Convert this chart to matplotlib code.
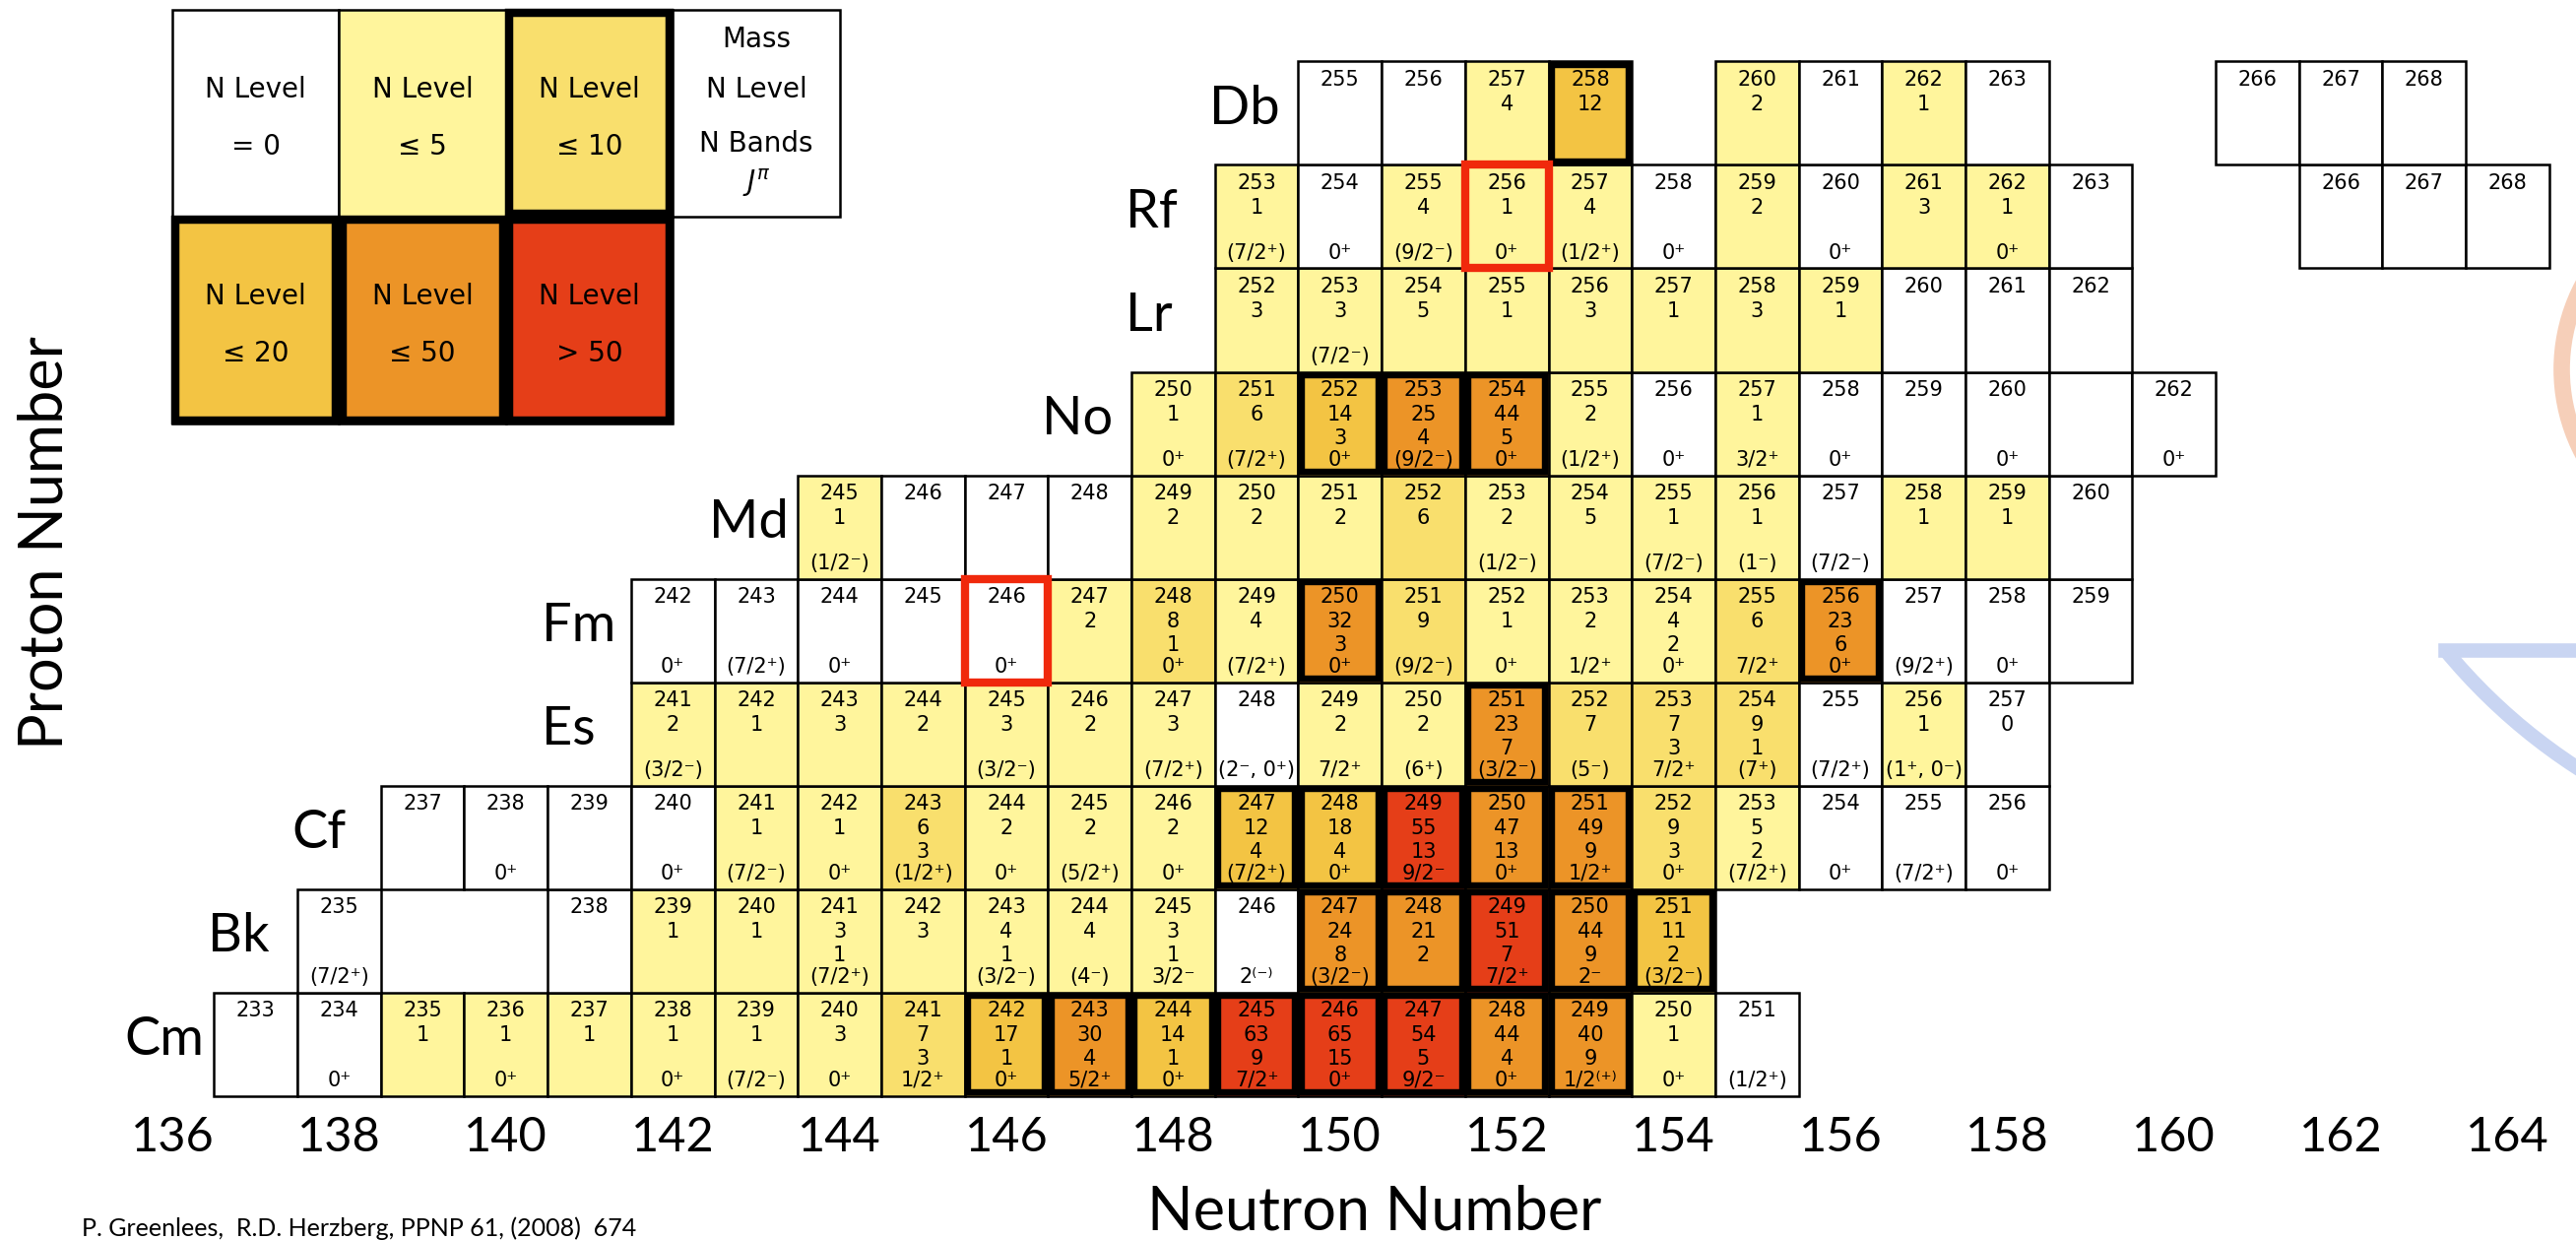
import matplotlib
matplotlib.use("Agg")
import matplotlib.pyplot as plt
from matplotlib.patches import Rectangle, Arc
from matplotlib.lines import Line2D

W, H, DPI = 2616, 1259, 100

# --- Chart rows: mass, number of levels, number of bands, ground-state J^pi ---
CM_MASS = [233, 234, 235, 236, 237, 238, 239, 240, 241, 242, 243, 244, 245, 246, 247, 248, 249, 250, 251]
CM_LEVEL = [None, None, 1, 1, 1, 1, 1, 3, 7, 17, 30, 14, 63, 65, 54, 44, 40, 1, None]
CM_BANDS = [None, None, None, None, None, None, None, None, 3, 1, 4, 1, 9, 15, 5, 4, 9, None, None]
CM_SPIN = ["", "0⁺", "", "0⁺", "", "0⁺", "(7/2⁻)", "0⁺", "1/2⁺", "0⁺", "5/2⁺", "0⁺", "7/2⁺", "0⁺",
           "9/2⁻", "0⁺", "1/2⁽⁺⁾", "0⁺", "(1/2⁺)"]

BK_MASS = [235, 238, 239, 240, 241, 242, 243, 244, 245, 246, 247, 248, 249, 250, 251]
BK_LEVEL = [None, None, 1, 1, 3, 3, 4, 4, 3, None, 24, 21, 51, 44, 11]
BK_BANDS = [None, None, None, None, 1, None, 1, None, 1, None, 8, 2, 7, 9, 2]
BK_SPIN = ["(7/2⁺)", "", "", "", "(7/2⁺)", "", "(3/2⁻)", "(4⁻)", "3/2⁻", "2⁽⁻⁾", "(3/2⁻)", "", "7/2⁺",
           "2⁻", "(3/2⁻)"]

CF_MASS = [237, 238, 239, 240, 241, 242, 243, 244, 245, 246, 247, 248, 249, 250, 251, 252, 253, 254, 255, 256]
CF_LEVEL = [None, None, None, None, 1, 1, 6, 2, 2, 2, 12, 18, 55, 47, 49, 9, 5, None, None, None]
CF_BANDS = [None, None, None, None, None, None, 3, None, None, None, 4, 4, 13, 13, 9, 3, 2, None, None, None]
CF_SPIN = ["", "0⁺", "", "0⁺", "(7/2⁻)", "0⁺", "(1/2⁺)", "0⁺", "(5/2⁺)", "0⁺", "(7/2⁺)", "0⁺", "9/2⁻",
           "0⁺", "1/2⁺", "0⁺", "(7/2⁺)", "0⁺", "(7/2⁺)", "0⁺"]

ES_MASS = [241, 242, 243, 244, 245, 246, 247, 248, 249, 250, 251, 252, 253, 254, 255, 256, 257]
ES_LEVEL = [2, 1, 3, 2, 3, 2, 3, None, 2, 2, 23, 7, 7, 9, None, 1, 0]
ES_BANDS = [None, None, None, None, None, None, None, None, None, None, 7, None, 3, 1, None, None, None]
ES_SPIN = ["(3/2⁻)", "", "", "", "(3/2⁻)", "", "(7/2⁺)", "(2⁻, 0⁺)", "7/2⁺", "(6⁺)", "(3/2⁻)", "(5⁻)",
           "7/2⁺", "(7⁺)", "(7/2⁺)", "(1⁺, 0⁻)", ""]

FM_MASS = [242, 243, 244, 245, 246, 247, 248, 249, 250, 251, 252, 253, 254, 255, 256, 257, 258, 259]
FM_LEVEL = [None, None, None, None, None, 2, 8, 4, 32, 9, 1, 2, 4, 6, 23, None, None, None]
FM_BANDS = [None, None, None, None, None, None, 1, None, 3, None, None, None, 2, None, 6, None, None, None]
FM_SPIN = ["0⁺", "(7/2⁺)", "0⁺", "", "0⁺", "", "0⁺", "(7/2⁺)", "0⁺", "(9/2⁻)", "0⁺", "1/2⁺", "0⁺",
           "7/2⁺", "0⁺", "(9/2⁺)", "0⁺", ""]

MD_MASS = [245, 246, 247, 248, 249, 250, 251, 252, 253, 254, 255, 256, 257, 258, 259, 260]
MD_LEVEL = [1, None, None, None, 2, 2, 2, 6, 2, 5, 1, 1, None, 1, 1, None]
MD_BANDS = [None] * len(MD_MASS)
MD_SPIN = ["(1/2⁻)", "", "", "", "", "", "", "", "(1/2⁻)", "", "(7/2⁻)", "(1⁻)", "(7/2⁻)", "", "", ""]

NO_MASS = [250, 251, 252, 253, 254, 255, 256, 257, 258, 259, 260, 261, 262]
NO_LEVEL = [1, 6, 14, 25, 44, 2, None, 1, None, None, None, None, None]
NO_BANDS = [None, None, 3, 4, 5, None, None, None, None, None, None, None, None]
NO_SPIN = ["0⁺", "(7/2⁺)", "0⁺", "(9/2⁻)", "0⁺", "(1/2⁺)", "0⁺", "3/2⁺", "0⁺", "", "0⁺", "", "0⁺"]

LR_MASS = [252, 253, 254, 255, 256, 257, 258, 259, 260, 261, 262]
LR_LEVEL = [3, 3, 5, 1, 3, 1, 3, 1, None, None, None]
LR_BANDS = [None] * len(LR_MASS)
LR_SPIN = ["", "(7/2⁻)", "", "", "", "", "", "", "", "", ""]

RF_MASS = [253, 254, 255, 256, 257, 258, 259, 260, 261, 262, 263, 266, 267, 268]
RF_LEVEL = [1, None, 4, 1, 4, None, 2, None, 3, 1, None, None, None, None]
RF_BANDS = [None] * len(RF_MASS)
RF_SPIN = ["(7/2⁺)", "0⁺", "(9/2⁻)", "0⁺", "(1/2⁺)", "0⁺", "", "0⁺", "", "0⁺", "", "", "", ""]

DB_MASS = [255, 256, 257, 258, 260, 261, 262, 263, 266, 267, 268]
DB_LEVEL = [None, None, 4, 12, 2, None, 1, None, None, None, None]
DB_BANDS = [None] * len(DB_MASS)
DB_SPIN = [""] * len(DB_MASS)

ROWS = [
    ("Cm", 96, CM_MASS, CM_LEVEL, CM_BANDS, CM_SPIN),
    ("Bk", 97, BK_MASS, BK_LEVEL, BK_BANDS, BK_SPIN),
    ("Cf", 98, CF_MASS, CF_LEVEL, CF_BANDS, CF_SPIN),
    ("Es", 99, ES_MASS, ES_LEVEL, ES_BANDS, ES_SPIN),
    ("Fm", 100, FM_MASS, FM_LEVEL, FM_BANDS, FM_SPIN),
    ("Md", 101, MD_MASS, MD_LEVEL, MD_BANDS, MD_SPIN),
    ("No", 102, NO_MASS, NO_LEVEL, NO_BANDS, NO_SPIN),
    ("Lr", 103, LR_MASS, LR_LEVEL, LR_BANDS, LR_SPIN),
    ("Rf", 104, RF_MASS, RF_LEVEL, RF_BANDS, RF_SPIN),
    ("Db", 105, DB_MASS, DB_LEVEL, DB_BANDS, DB_SPIN),
]

BLANK_CELLS = [(102, 261)]           # box drawn, no label
MARKED_CELLS = [(104, 256), (100, 246)]  # red frames (Z, A)

LEGEND_TOP = ["= 0", "≤ 5", "≤ 10"]
LEGEND_TOP_LEVEL = [0, 5, 10]
LEGEND_BOTTOM = ["≤ 20", "≤ 50", "> 50"]
LEGEND_BOTTOM_LEVEL = [20, 50, 51]
LEGEND_KEY = ["Mass", "N Level", "N Bands", r"$J^{\pi}$"]

N_TICKS = [136, 138, 140, 142, 144, 146, 148, 150, 152, 154, 156, 158, 160, 162, 164]

WHITE = "#ffffff"
C_LE5 = "#fff59c"
C_LE10 = "#f9df6d"
C_LE20 = "#f3c443"
C_LE50 = "#ec9427"
C_GT50 = "#e53e18"
RED = "#f0290c"

CELL_FONT = ["DejaVu Sans"]
plt.rcParams["font.family"] = ["Lato", "DejaVu Sans"]


def level_colour(n):
    if n is None or n == 0:
        return WHITE
    if n <= 5:
        return C_LE5
    if n <= 10:
        return C_LE10
    if n <= 20:
        return C_LE20
    if n <= 50:
        return C_LE50
    return C_GT50


AX_H = 1122 / H
fig = plt.figure(figsize=(W / DPI, H / DPI), dpi=DPI)
fig.patch.set_facecolor("white")
ax = fig.add_axes([0, 1 - AX_H, 1, AX_H])
ax.set_facecolor("none")
ax.set_xlim(133.934, 164.82)
ax.set_ylim(95.41, 106.095)
for s in ax.spines.values():
    s.set_visible(False)
ax.set_yticks([])
ax.set_xticks(N_TICKS)
ax.tick_params(axis="x", length=0, pad=8, labelsize=35)

# faint logo arcs at the right edge, behind the chart
tr = fig.dpi_scale_trans
fig.add_artist(Arc((2784.5 / DPI, (H - 375) / DPI), 2 * 183 / DPI, 2 * 183 / DPI,
                   theta1=90, theta2=270, lw=12, color="#f6cfb9", transform=tr, zorder=-1))
fig.add_artist(Line2D([2483 / DPI, W / DPI], [(H - 660) / DPI] * 2, lw=10.5,
                      color="#c9d5f2", transform=tr, zorder=-1))
fig.add_artist(Arc((2938.5 / DPI, (H - 284.7) / DPI), 2 * 590 / DPI, 2 * 590 / DPI,
                   theta1=219.5, theta2=270, lw=10.5, color="#c9d5f2", transform=tr, zorder=-1))

THIN = 1.8
THICK = 4.6
DX, DY = 3.2 / 84.7, 3.2 / 105   # inset of thick frames in data units
LINE_Y = [0.18, 0.41, 0.64, 0.86]  # text rows, fraction from cell top

for name, z, masses, levels, bands, spins in ROWS:
    first_n = masses[0] - z
    ax.text(first_n - 1.57, z + 0.04, name, ha="left", va="center", fontsize=39)
    for a, lvl, nb, jp in zip(masses, levels, bands, spins):
        n = a - z
        ax.add_patch(Rectangle((n - 0.5, z - 0.5), 1, 1, facecolor=level_colour(lvl),
                               edgecolor="black", lw=THIN, zorder=1))
        if lvl is not None and lvl > 10:
            ax.add_patch(Rectangle((n - 0.5 + DX, z - 0.5 + DY), 1 - 2 * DX, 1 - 2 * DY,
                                   fill=False, edgecolor="black", lw=THICK,
                                   joinstyle="miter", zorder=2))
        if (z, a) in BLANK_CELLS:
            continue
        top = z + 0.5
        kw = dict(ha="center", va="center", fontsize=15, family=CELL_FONT, zorder=4)
        ax.text(n, top - LINE_Y[0], str(a), **kw)
        if lvl is not None:
            ax.text(n, top - LINE_Y[1], str(lvl), **kw)
        if nb is not None:
            ax.text(n, top - LINE_Y[2], str(nb), **kw)
        if jp:
            ax.text(n, top - LINE_Y[3] + 0.01, jp, **kw)

for z, a in MARKED_CELLS:
    n = a - z
    ax.add_patch(Rectangle((n - 0.5, z - 0.5), 1, 1, fill=False, edgecolor=RED,
                           lw=6, joinstyle="miter", zorder=3))

# legend block, 2x2 grid units per box
lkw = dict(ha="center", va="center", fontsize=20, family=CELL_FONT, zorder=4)
for i, (lab, lvl) in enumerate(zip(LEGEND_TOP, LEGEND_TOP_LEVEL)):
    x0 = 136 + 2 * i
    ax.add_patch(Rectangle((x0, 104), 2, 2, facecolor=level_colour(lvl),
                           edgecolor="black", lw=THIN, zorder=1))
    if lvl > 5:
        ax.add_patch(Rectangle((x0 + DX, 104 + DY), 2 - 2 * DX, 2 - 2 * DY, fill=False,
                               edgecolor="black", lw=THICK + 1.5, joinstyle="miter", zorder=2))
    ax.text(x0 + 1, 105.23, "N Level", **lkw)
    ax.text(x0 + 1, 104.68, lab, **lkw)
for i, (lab, lvl) in enumerate(zip(LEGEND_BOTTOM, LEGEND_BOTTOM_LEVEL)):
    x0 = 136 + 2 * i
    ax.add_patch(Rectangle((x0, 102), 2, 2, facecolor=level_colour(lvl),
                           edgecolor="black", lw=THIN, zorder=1))
    ax.add_patch(Rectangle((x0 + DX, 102 + DY), 2 - 2 * DX, 2 - 2 * DY, fill=False,
                           edgecolor="black", lw=THICK + 1.5, joinstyle="miter", zorder=2))
    ax.text(x0 + 1, 103.23, "N Level", **lkw)
    ax.text(x0 + 1, 102.68, lab, **lkw)
ax.add_patch(Rectangle((142, 104), 2, 2, facecolor=WHITE, edgecolor="black", lw=THIN, zorder=1))
for y, lab in zip([105.71, 105.23, 104.70, 104.33], LEGEND_KEY):
    ax.text(143, y, lab, **lkw)

ax.set_xlabel("Neutron Number", fontsize=44)
ax.xaxis.set_label_coords(0.5336, -0.072)
ax.set_ylabel("Proton Number", fontsize=44)
ax.yaxis.set_label_coords(0.0283, 0.509)

fig.text(83 / W, 1 - 1255 / H, "P. Greenlees,  R.D. Herzberg, PPNP 61, (2008)  674",
         ha="left", va="baseline", fontsize=18)

fig.savefig("out.png", dpi=DPI, facecolor="white")
